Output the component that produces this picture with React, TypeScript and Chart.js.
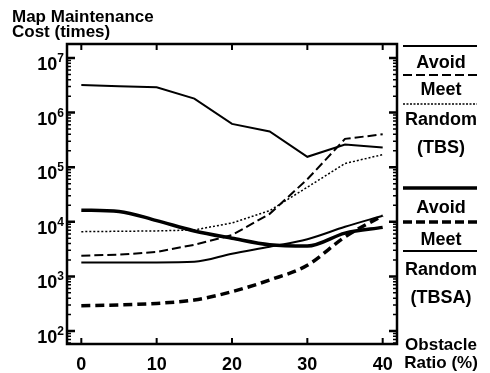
import { useEffect, useRef } from "react";
import { Chart, registerables } from "chart.js";

Chart.register(...registerables);

// ---- data ----
const obstacleRatio = [0, 5, 10, 15, 20, 25, 30, 35, 40];
const tbsAvoid = [3.2e6, 3.05e6, 2.9e6, 1.8e6, 6.2e5, 4.5e5, 1.55e5, 2.6e5, 2.3e5];
const tbsMeet = [2.4e3, 2.5e3, 2.8e3, 3.8e3, 5.7e3, 1.4e4, 6.0e4, 3.3e5, 4.0e5];
const tbsRandom = [6.6e3, 6.7e3, 6.8e3, 7.1e3, 9.5e3, 1.6e4, 4.3e4, 1.17e5, 1.7e5];
const tbsaAvoid = [1.63e4, 1.55e4, 1.05e4, 6.8e3, 5.0e3, 3.8e3, 3.6e3, 6.2e3, 7.9e3];
const tbsaMeet = [290, 300, 320, 370, 525, 860, 1.6e3, 5.3e3, 1.3e4];
const tbsaRandom = [1.8e3, 1.8e3, 1.8e3, 1.85e3, 2.6e3, 3.5e3, 4.8e3, 8.1e3, 1.29e4];

const xTickValues = [0, 10, 20, 30, 40];
const yTickExponents = [2, 3, 4, 5, 6, 7];
const titleLines = ["Map Maintenance", "Cost (times)"];
const xAxisTitle = ["Obstacle", "Ratio (%)"];
const legendTBS = ["Avoid", "Meet", "Random", "(TBS)"];
const legendTBSA = ["Avoid", "Meet", "Random", "(TBSA)"];

const FONT = "'Liberation Sans', Arial, sans-serif";

const toPoints = (ys: number[]) => obstacleRatio.map((x, i) => ({ x, y: ys[i] }));

const decorPlugin = {
  id: "decor",
  beforeDraw(chart: any) {
    const ctx = chart.ctx;
    ctx.save();
    ctx.fillStyle = "#fff";
    ctx.fillRect(0, 0, chart.width, chart.height);
    ctx.restore();
  },
  afterDraw(chart: any) {
    const ctx = chart.ctx as CanvasRenderingContext2D;
    const { left, right, top, bottom } = chart.chartArea;
    const xs = chart.scales.x;
    const ys = chart.scales.y;
    ctx.save();
    ctx.strokeStyle = "#000";
    ctx.fillStyle = "#000";

    // frame
    ctx.lineWidth = 2.5;
    ctx.strokeRect(left, top, right - left, bottom - top);

    // x ticks (inward, top and bottom)
    ctx.lineWidth = 2;
    for (const v of xTickValues) {
      const px = xs.getPixelForValue(v);
      ctx.beginPath();
      ctx.moveTo(px, bottom);
      ctx.lineTo(px, bottom - 6);
      ctx.moveTo(px, top);
      ctx.lineTo(px, top + 6);
      ctx.stroke();
    }
    // y ticks (log, major+minor, inward both sides)
    const yMin = ys.min;
    const yMax = ys.max;
    for (let e = 1; e <= 7; e++) {
      for (let m = 1; m <= 9; m++) {
        const v = m * Math.pow(10, e);
        if (v < yMin || v > yMax) continue;
        const py = ys.getPixelForValue(v);
        const len = m === 1 ? 8 : 4;
        ctx.lineWidth = m === 1 ? 2.5 : 1.5;
        ctx.beginPath();
        ctx.moveTo(left, py);
        ctx.lineTo(left + len, py);
        ctx.moveTo(right, py);
        ctx.lineTo(right - len, py);
        ctx.stroke();
      }
    }

    // x tick labels
    ctx.font = `bold 18px ${FONT}`;
    ctx.textAlign = "center";
    ctx.textBaseline = "alphabetic";
    for (const v of xTickValues) {
      ctx.fillText(String(v), xs.getPixelForValue(v), 370);
    }

    // y tick labels 10^n
    for (const e of yTickExponents) {
      const py = ys.getPixelForValue(Math.pow(10, e));
      ctx.font = `bold 12px ${FONT}`;
      const ew = ctx.measureText(String(e)).width;
      const expX = left - 3 - ew;
      ctx.textAlign = "left";
      ctx.fillText(String(e), expX, py + 4);
      ctx.font = `bold 18px ${FONT}`;
      ctx.textAlign = "right";
      ctx.fillText("10", expX, py + 12);
    }

    // title
    ctx.font = `bold 17px ${FONT}`;
    ctx.textAlign = "left";
    ctx.fillText(titleLines[0], 12, 22);
    ctx.fillText(titleLines[1], 12, 37);

    // legend
    const lx0 = 403;
    const lx1 = 477;
    const cx = 441;
    const seg = (y: number, w: number, dash: number[]) => {
      ctx.lineWidth = w;
      ctx.setLineDash(dash);
      ctx.beginPath();
      ctx.moveTo(lx0, y);
      ctx.lineTo(lx1, y);
      ctx.stroke();
      ctx.setLineDash([]);
    };
    ctx.textAlign = "center";
    ctx.font = `bold 18px ${FONT}`;
    seg(46, 2, []);
    ctx.fillText(legendTBS[0], cx, 68);
    seg(75, 2, [9, 4]);
    ctx.fillText(legendTBS[1], cx, 95);
    seg(104, 1.5, [2, 1.5]);
    ctx.fillText(legendTBS[2], cx, 125);
    ctx.fillText(legendTBS[3], cx, 153);

    seg(188, 3.5, []);
    ctx.fillText(legendTBSA[0], cx, 213);
    seg(222, 3.5, [9, 4]);
    ctx.fillText(legendTBSA[1], cx, 245);
    seg(251, 2, []);
    ctx.fillText(legendTBSA[2], cx, 275);
    ctx.fillText(legendTBSA[3], cx, 303);

    ctx.font = `bold 17px ${FONT}`;
    ctx.fillText(xAxisTitle[0], cx, 350);
    ctx.fillText(xAxisTitle[1], cx, 368);
    ctx.restore();
  },
};

export default function App() {
  const ref = useRef<HTMLCanvasElement | null>(null);
  useEffect(() => {
    if (!ref.current) return;
    const mk = (ys: number[], w: number, dash: number[], smooth: boolean) => ({
      data: toPoints(ys),
      borderColor: "#000",
      backgroundColor: "#000",
      borderWidth: w,
      borderDash: dash,
      pointRadius: 0,
      fill: false,
      tension: 0,
      cubicInterpolationMode: smooth ? ("monotone" as const) : ("default" as const),
      borderCapStyle: "butt" as const,
    });
    const chart = new Chart(ref.current, {
      type: "line",
      data: {
        datasets: [
          { label: "Avoid (TBS)", ...mk(tbsAvoid, 2, [], false) },
          { label: "Meet (TBS)", ...mk(tbsMeet, 2, [9, 4], false) },
          { label: "Random (TBS)", ...mk(tbsRandom, 1.5, [2, 2], false) },
          { label: "Avoid (TBSA)", ...mk(tbsaAvoid, 3.5, [], true) },
          { label: "Meet (TBSA)", ...mk(tbsaMeet, 3.5, [9, 5], true) },
          { label: "Random (TBSA)", ...mk(tbsaRandom, 2, [], true) },
        ],
      },
      options: {
        animation: false,
        responsive: false,
        devicePixelRatio: 1,
        layout: { padding: { left: 67, right: 93, top: 44, bottom: 29 } },
        plugins: { legend: { display: false }, tooltip: { enabled: false } },
        scales: {
          x: { type: "linear", min: -1.9, max: 41.9, display: false },
          y: { type: "logarithmic", min: Math.pow(10, 1.762), max: Math.pow(10, 7.256), display: false },
        },
      },
      plugins: [decorPlugin],
    });
    return () => chart.destroy();
  }, []);
  return (
    <div style={{ position: "absolute", left: 0, top: 0, width: 490, height: 373, background: "#fff" }}>
      <canvas ref={ref} width={490} height={373} style={{ display: "block", width: 490, height: 373 }} />
    </div>
  );
}
